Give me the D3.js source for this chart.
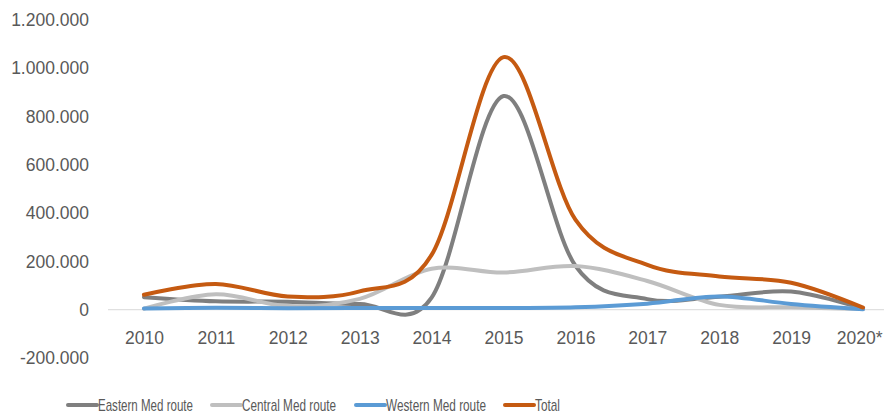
<!DOCTYPE html>
<html>
<head>
<meta charset="utf-8">
<script src="https://cdn.jsdelivr.net/npm/d3@7"></script>
<style>
  body { margin: 0; background: #fff; }
  text { font-family: "Liberation Sans", Arial, sans-serif; fill: #595959; }
</style>
</head>
<body>
<div id="chart"></div>
<script>
const years = ['2010', '2011', '2012', '2013', '2014', '2015', '2016', '2017', '2018', '2019', '2020*'];
const eastern = [52000, 35000, 33000, 24000, 50000, 885000, 182000, 44000, 54000, 75000, 4000];
const central = [4500, 64000, 15000, 45000, 170000, 154000, 181000, 119000, 20000, 10000, 3000];
const western = [5000, 8400, 6400, 6800, 7300, 7200, 10200, 25000, 55000, 24000, 2000];
const total = [62000, 107000, 55000, 76000, 227000, 1046000, 373000, 186000, 138000, 112000, 9000];
const yTicks = [-200000, 0, 200000, 400000, 600000, 800000, 1000000, 1200000];

const seriesNames = ['Eastern Med route', 'Central Med route', 'Western Med route', 'Total'];
const seriesValues = [eastern, central, western, total];
const seriesColors = ['#7f7f7f', '#bfbfbf', '#5b9bd5', '#c55a11'];

const width = 884, height = 414;

const svg = d3.select('#chart').append('svg')
    .attr('width', width)
    .attr('height', height);

const x = d3.scalePoint()
    .domain(years)
    .range([108, 899])
    .padding(0.5);

const y = d3.scaleLinear()
    .domain([-200000, 1200000])
    .range([358, 20]);

const locale = d3.formatLocale({ decimal: ',', thousands: '.', grouping: [3], currency: ['', ''], minus: '-' });
const fmt = locale.format(',');

// zero line
svg.append('line')
    .attr('x1', 108)
    .attr('x2', width)
    .attr('y1', y(0))
    .attr('y2', y(0))
    .attr('stroke', '#d9d9d9')
    .attr('stroke-width', 1);

// y axis labels
const yAxis = svg.append('g')
    .attr('transform', 'translate(108,0)')
    .call(d3.axisLeft(y).tickValues(yTicks).tickFormat(fmt).tickSize(0).tickPadding(19));
yAxis.select('.domain').remove();
yAxis.selectAll('text')
    .style('font-family', '"Liberation Sans", Arial, sans-serif')
    .style('font-size', '17.5px')
    .attr('fill', '#595959');

// x axis labels
const xAxis = svg.append('g')
    .attr('transform', 'translate(0,' + y(0) + ')')
    .call(d3.axisBottom(x).tickSize(0).tickPadding(22));
xAxis.select('.domain').remove();
xAxis.selectAll('text')
    .style('font-family', '"Liberation Sans", Arial, sans-serif')
    .style('font-size', '17.5px')
    .attr('fill', '#595959');
// last label sits at the right edge, keep it inside
xAxis.selectAll('text').filter(d => d === '2020*')
    .attr('text-anchor', 'end')
    .attr('x', 19);

const line = d3.line()
    .x((d, i) => x(years[i]))
    .y(d => y(d))
    .curve(d3.curveCatmullRom.alpha(0));

svg.append('g')
    .selectAll('path')
    .data(seriesValues)
    .enter().append('path')
    .attr('d', d => line(d))
    .attr('fill', 'none')
    .attr('stroke', (d, i) => seriesColors[i])
    .attr('stroke-width', 4)
    .attr('stroke-linecap', 'round')
    .attr('stroke-linejoin', 'round');

// legend
const legendX = [68, 212, 356, 505];
const legendW = [95, 94, 100, 25];
const legend = svg.append('g')
    .selectAll('g')
    .data(seriesNames)
    .enter().append('g')
    .attr('transform', (d, i) => 'translate(' + legendX[i] + ',405)');

legend.append('line')
    .attr('x1', 0)
    .attr('x2', 29)
    .attr('stroke', (d, i) => seriesColors[i])
    .attr('stroke-width', 4)
    .attr('stroke-linecap', 'round');

legend.append('text')
    .attr('x', 30)
    .attr('dy', '0.36em')
    .style('font-size', '17px')
    .attr('textLength', (d, i) => legendW[i])
    .attr('lengthAdjust', 'spacingAndGlyphs')
    .text(d => d);
</script>
</body>
</html>
